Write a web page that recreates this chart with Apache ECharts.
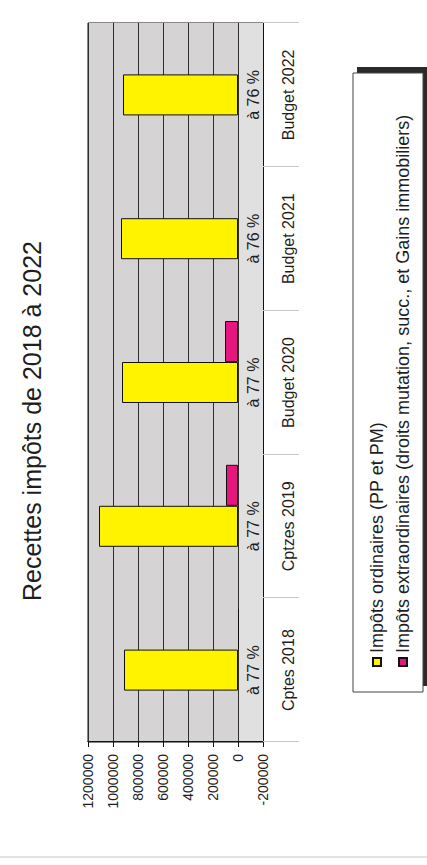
<!DOCTYPE html>
<html><head><meta charset="utf-8">
<script src="https://cdn.jsdelivr.net/npm/echarts@6/dist/echarts.min.js"></script>
<style>
html,body{margin:0;padding:0;background:#fff;width:427px;height:865px;overflow:hidden}
#chart{position:absolute;left:0;top:0;width:865px;height:427px;transform-origin:0 0;transform:translateY(865px) rotate(-90deg);}
</style></head><body><div id="chart"></div>
<script>
const categories = ['Cptes 2018', 'Cptzes 2019', 'Budget 2020', 'Budget 2021', 'Budget 2022'];
const ordinaires = [912000, 1112000, 928000, 936000, 920000];
const extraordinaires = [-8000, 96000, 104000, null, null];
const emptySlot = [null, null, null, null, null];
const shareLabels = ['à 77 %', 'à 77 %', 'à 77 %', 'à 76 %', 'à 76 %'];
const valueTicks = [-200000, 0, 200000, 400000, 600000, 800000, 1000000, 1200000];
const seriesNames = ['Impôts ordinaires (PP et PM)', 'Impôts extraordinaires (droits mutation, succ., et Gains immobiliers)'];
const titleText = 'Recettes impôts de 2018 à 2022';

const FONT = '"Liberation Sans", Arial, sans-serif';
const chart = echarts.init(document.getElementById('chart'), null, {renderer: 'svg'});
chart.setOption({
  animation: false,
  backgroundColor: '#ffffff',
  textStyle: {fontFamily: FONT, color: '#1e1e1e'},
  title: {
    text: titleText, left: 259, top: 14,
    textStyle: {fontFamily: FONT, fontSize: 25, fontWeight: 'normal', color: '#1e1e1e'}
  },
  graphic: [
    {type: 'line', shape: {x1: 8, y1: 0, x2: 8, y2: 427}, style: {stroke: '#c4c4c4', lineWidth: 1}, silent: true, z: 0},
    {type: 'rect', shape: {x: 179, y: 357, width: 619, height: 70}, style: {fill: '#2a2a2a'}, silent: true, z: 0},
    {type: 'rect', shape: {x: 173, y: 353, width: 619, height: 70}, style: {fill: '#ffffff', stroke: '#444', lineWidth: 1}, silent: true, z: 1}
  ],
  legend: {
    orient: 'vertical', left: 198, top: 368,
    data: seriesNames,
    icon: 'rect', itemWidth: 8, itemHeight: 8, itemGap: 8,
    padding: 0,
    selectedMode: false, z: 5,
    textStyle: {fontFamily: FONT, fontSize: 18, lineHeight: 18, color: '#1e1e1e'}
  },
  grid: {left: 123, right: 23, top: 88, bottom: 164, show: true, backgroundColor: '#d5d3d4', borderColor: '#111', borderWidth: 1},
  xAxis: {
    type: 'category', data: categories, position: 'bottom',
    axisLine: {onZero: false, lineStyle: {color: '#111', width: 1}},
    axisTick: {show: true, length: 36, inside: false, lineStyle: {color: '#c8c8c8', width: 1}},
    axisLabel: {fontFamily: FONT, fontSize: 16, color: '#1e1e1e', margin: 17}
  },
  yAxis: {
    type: 'value',
    min: valueTicks[0], max: valueTicks[valueTicks.length - 1], interval: valueTicks[1] - valueTicks[0],
    axisLine: {show: true, lineStyle: {color: '#111'}},
    axisTick: {show: true, length: 5, lineStyle: {color: '#111'}},
    axisLabel: {fontFamily: FONT, fontSize: 14, color: '#1e1e1e', margin: 12, formatter: v => String(v)},
    splitLine: {show: true, lineStyle: {color: '#2e2e2e', width: 1}},
    splitArea: {show: true, areaStyle: {color: ['#e1e0e1', '#d5d3d4', '#d5d3d4', '#d5d3d4', '#d5d3d4', '#d5d3d4', '#d5d3d4']}}
  },
  series: [
    {name: 'slot', type: 'bar', data: emptySlot, barWidth: 41, barGap: '0%'},
    {name: seriesNames[0], type: 'bar', data: ordinaires, barWidth: 41, barGap: '0%',
     itemStyle: {color: '#fff300', borderColor: '#111', borderWidth: 1},
     label: {show: true, position: 'bottom', distance: 7, fontFamily: FONT, fontSize: 16, color: '#1e1e1e',
             formatter: p => shareLabels[p.dataIndex]}},
    {name: seriesNames[1], type: 'bar', data: extraordinaires, barWidth: 41, barGap: '0%',
     itemStyle: {color: '#e5177f', borderColor: '#111', borderWidth: 1}}
  ]
});
</script></body></html>
